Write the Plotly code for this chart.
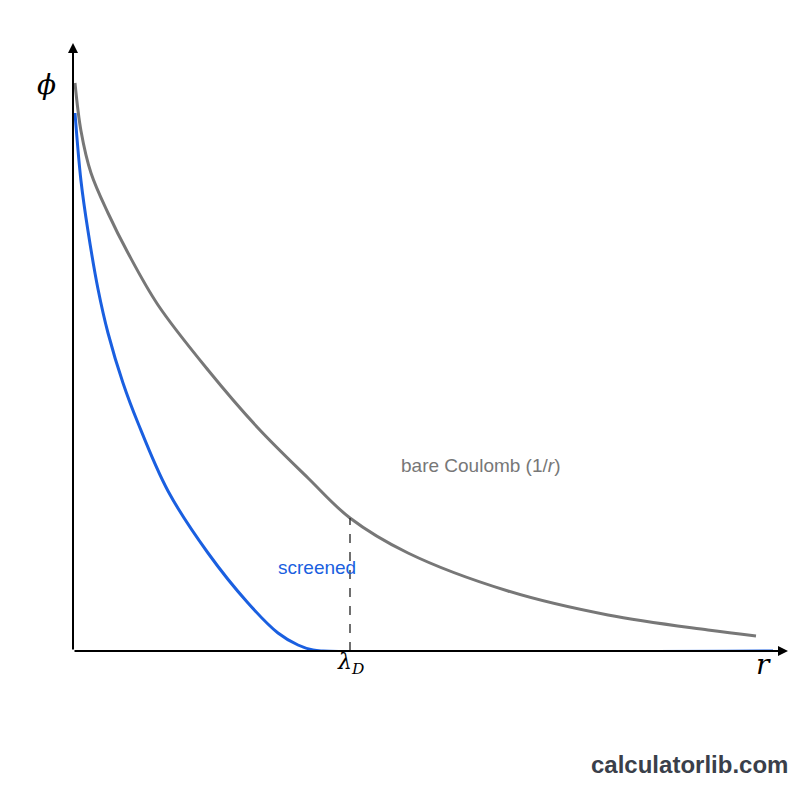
import plotly.graph_objects as go

# values (arbitrary units: r and phi)
coul_r   = [2, 8, 18, 35, 55, 85, 135, 185, 235, 277, 335, 435, 535, 635, 683]
coul_phi = [568, 520, 478, 438, 398, 346, 281, 223, 173, 133, 98, 60, 36, 21, 15]
scr_r    = [2, 8, 15, 25, 35, 50, 65, 95, 135, 175, 205, 225, 240, 250, 700]
scr_phi  = [538, 470, 420, 362, 318, 268, 228, 160, 98, 48, 18, 6, 1, 0, 0]
lambda_d = 277
lambda_phi = 133

fig = go.Figure()
fig.add_trace(go.Scatter(x=coul_r, y=coul_phi, mode="lines", line=dict(color="#777777", width=3, shape="spline", smoothing=1.0), hoverinfo="skip"))
fig.add_trace(go.Scatter(x=scr_r, y=scr_phi, mode="lines", line=dict(color="#1a5fe0", width=3, shape="spline"), hoverinfo="skip"))
fig.add_trace(go.Scatter(x=[lambda_d, lambda_d], y=[0, lambda_phi], mode="lines", line=dict(color="#222", width=1.3, dash="dash"), hoverinfo="skip"))

fig.add_annotation(x=715, y=0, ax=0, ay=0, xref="x", yref="y", axref="x", ayref="y",
                   showarrow=True, arrowhead=2, arrowsize=1, arrowwidth=2, arrowcolor="black", text="")
fig.add_annotation(x=0, y=608, ax=0, ay=0, xref="x", yref="y", axref="x", ayref="y",
                   showarrow=True, arrowhead=2, arrowsize=1, arrowwidth=2, arrowcolor="black", text="")

serif = "DejaVu Serif"
W, H = 715.0, 608.0
def px(x): return x / W
def py(y): return y / H
fig.add_annotation(x=px(-38), y=py(585), xref="paper", yref="paper", text="<i>ϕ</i>", showarrow=False, font=dict(family=serif, size=28, color="black"))
fig.add_annotation(x=px(700), y=py(-32), xref="paper", yref="paper", text="<i>r</i>", showarrow=False, font=dict(family=serif, size=28, color="black"))
fig.add_annotation(x=px(lambda_d), y=py(-29), xref="paper", yref="paper", text="<i>λ<sub>D</sub></i>", showarrow=False, font=dict(family=serif, size=22, color="black"))
fig.add_annotation(x=px(408), y=py(173), xref="paper", yref="paper", text="bare Coulomb (1/<i>r</i>)", showarrow=False, font=dict(family="Liberation Sans", size=19, color="#777777"))
fig.add_annotation(x=px(203), y=py(71), xref="paper", yref="paper", text="screened", showarrow=False, font=dict(family="Liberation Sans", size=19, color="#1a5fe0"))
fig.add_annotation(x=px(717), y=py(-129), xref="paper", yref="paper", xanchor="right",
                   text="<b>calculatorlib.com</b>", showarrow=False,
                   font=dict(family="Liberation Sans", size=24, color="#3a3f4a"))

fig.update_xaxes(range=[0, 715], visible=False)
fig.update_yaxes(range=[0, 608], visible=False)
fig.update_layout(width=800, height=800, showlegend=False, plot_bgcolor="white", paper_bgcolor="white",
                  margin=dict(l=65, r=20, t=35, b=157, autoexpand=False))
fig.write_html("out.html")
